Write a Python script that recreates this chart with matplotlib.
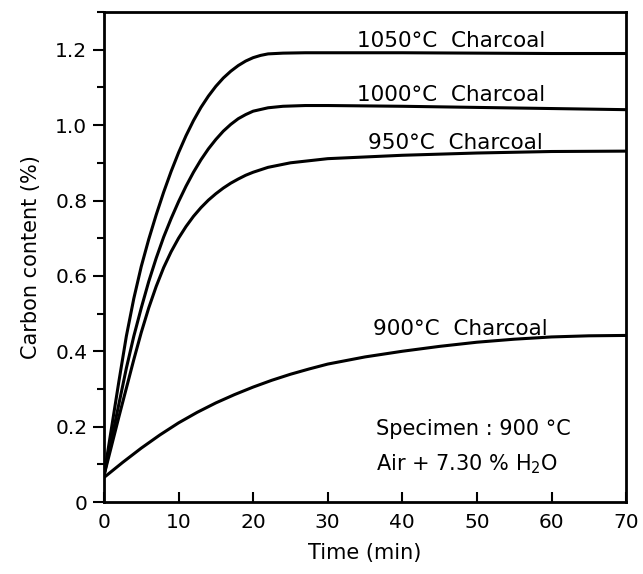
import matplotlib.pyplot as plt
from matplotlib.ticker import MultipleLocator

# time (min) and carbon content (%)
t_1050 = [0, 1, 2, 3, 4, 5, 6, 7, 8, 9, 10, 11, 12, 13, 14, 15, 16, 17, 18, 19, 20, 21, 22, 24, 27, 30, 40, 50, 60, 70]
c_1050 = [0.07, 0.195, 0.32, 0.44, 0.54, 0.625, 0.697, 0.762, 0.822, 0.877, 0.927, 0.972, 1.012, 1.047, 1.077,
          1.103, 1.125, 1.143, 1.158, 1.17, 1.179, 1.185, 1.189, 1.191, 1.192, 1.192, 1.192, 1.191, 1.19, 1.19]

t_1000 = [0, 1, 2, 3, 4, 5, 6, 7, 8, 9, 10, 11, 12, 13, 14, 15, 16, 17, 18, 19, 20, 22, 24, 27, 30, 40, 50, 60, 70]
c_1000 = [0.07, 0.165, 0.26, 0.355, 0.44, 0.515, 0.585, 0.647, 0.703, 0.752, 0.797, 0.838, 0.875, 0.908, 0.937,
          0.962, 0.984, 1.002, 1.017, 1.028, 1.037, 1.046, 1.05, 1.052, 1.052, 1.05, 1.047, 1.044, 1.041]

t_950 = [0, 1, 2, 3, 4, 5, 6, 7, 8, 9, 10, 11, 12, 13, 14, 15, 16, 17, 18, 19, 20, 22, 25, 30, 40, 50, 60, 70]
c_950 = [0.07, 0.148, 0.226, 0.302, 0.378, 0.45, 0.515, 0.572, 0.622, 0.664, 0.70, 0.731, 0.758, 0.781, 0.801,
         0.818, 0.833, 0.846, 0.857, 0.867, 0.875, 0.888, 0.9, 0.911, 0.92, 0.926, 0.93, 0.931]

t_900 = [0, 2.5, 5, 7.5, 10, 12.5, 15, 17.5, 20, 22.5, 25, 27.5, 30, 35, 40, 45, 50, 55, 60, 65, 70]
c_900 = [0.065, 0.105, 0.143, 0.178, 0.21, 0.238, 0.263, 0.285, 0.305, 0.323, 0.339, 0.353, 0.366, 0.385,
         0.4, 0.413, 0.424, 0.432, 0.438, 0.441, 0.442]

curve_labels = ['1050°C  Charcoal', '1000°C  Charcoal', '950°C  Charcoal', '900°C  Charcoal']
label_x = [33.9, 33.9, 35.4, 36.1]
label_y = [1.206, 1.063, 0.937, 0.442]

x_ticks = [0, 10, 20, 30, 40, 50, 60, 70]
y_ticks = [0, 0.2, 0.4, 0.6, 0.8, 1.0, 1.2]
y_ticklabels = ['0', '0.2', '0.4', '0.6', '0.8', '1.0', '1.2']

fig = plt.figure(figsize=(6.43, 5.74), dpi=100)
ax = fig.add_axes([0.1617, 0.1254, 0.812, 0.8536])

for t, c in [(t_1050, c_1050), (t_1000, c_1000), (t_950, c_950), (t_900, c_900)]:
    ax.plot(t, c, color='black', lw=2.2, solid_joinstyle='round')

for lab, x, y in zip(curve_labels, label_x, label_y):
    ax.text(x, y, lab, fontsize=15.5, ha='left', va='baseline')

ax.text(36.5, 0.177, 'Specimen : 900 °C', fontsize=15, ha='left', va='baseline')
ax.text(36.5, 0.085, 'Air + 7.30 % H$_2$O', fontsize=15, ha='left', va='baseline')

ax.set_xlim(0, 70)
ax.set_ylim(0, 1.3)
ax.set_xticks(x_ticks)
ax.set_yticks(y_ticks)
ax.set_yticklabels(y_ticklabels)
ax.yaxis.set_minor_locator(MultipleLocator(0.1))

ax.tick_params(axis='x', direction='in', length=7, width=1.5, labelsize=14.5, pad=8)
ax.tick_params(axis='y', which='major', direction='out', length=8, width=1.5, labelsize=14.5, pad=4)
ax.tick_params(axis='y', which='minor', direction='out', length=5, width=1.5)
for s in ax.spines.values():
    s.set_linewidth(2)

ax.set_xlabel('Time (min)', fontsize=15, labelpad=8)
ax.set_ylabel('Carbon content (%)', fontsize=15, labelpad=10)

fig.savefig('out.png', dpi=100)
